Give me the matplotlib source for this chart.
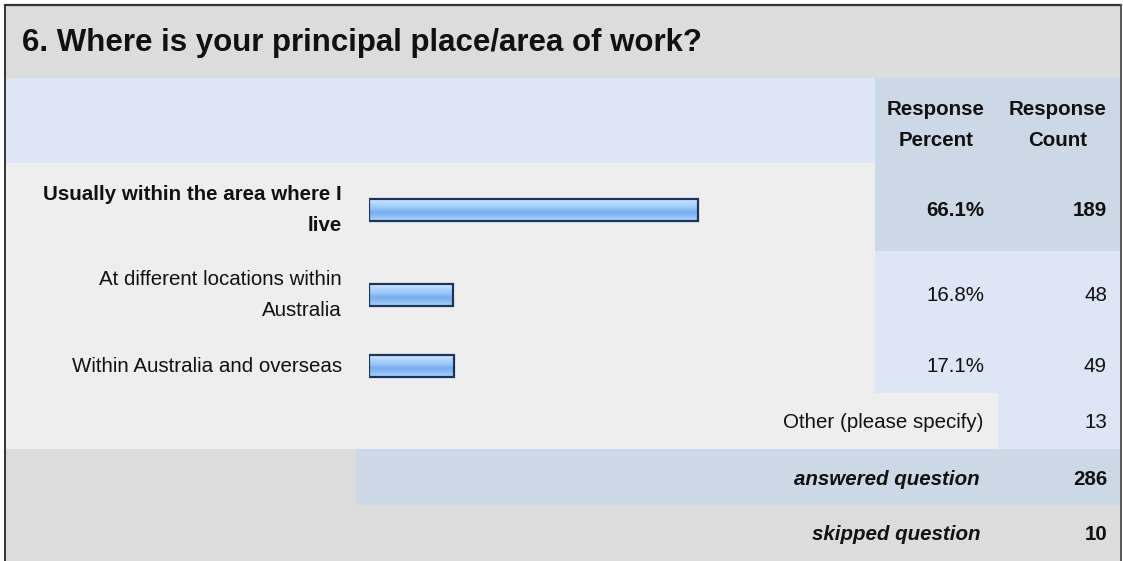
import numpy as np
import matplotlib
matplotlib.use("Agg")
import matplotlib.pyplot as plt
from matplotlib.patches import Rectangle
from matplotlib.colors import LinearSegmentedColormap

plt.rcParams["font.family"] = ["Liberation Sans", "DejaVu Sans"]

title = "6. Where is your principal place/area of work?"
answers = ["Usually within the area where I\nlive",
           "At different locations within\nAustralia",
           "Within Australia and overseas"]
percents = [66.1, 16.8, 17.1]
counts = [189, 48, 49]
other_label = "Other (please specify)"
other_count = 13
answered = 286
skipped = 10

W, H = 1123, 561
GRAY = "#dcdcdc"
ROW = "#eeeeee"
LBLUE = "#dce6f4"
DBLUE = "#ccd8e6"
FS = 14.8
LS = 1.78
INK = "#111111"

fig = plt.figure(figsize=(W / 100, H / 100), dpi=100)
fig.patch.set_facecolor("white")

# background table in pixel coordinates
bg = fig.add_axes([0, 0, 1, 1])
bg.set_xlim(0, W)
bg.set_ylim(H, 0)
bg.axis("off")


def cell(x0, x1, y0, y1, c):
    bg.add_patch(Rectangle((x0, y0), x1 - x0, y1 - y0, facecolor=c,
                           edgecolor="none", zorder=0))


cell(6, 1121, 6, 78, GRAY)
cell(6, 875, 78, 163, LBLUE)
cell(875, 1121, 78, 163, DBLUE)
cell(6, 875, 163, 251, ROW)
cell(875, 1121, 163, 251, DBLUE)
cell(6, 875, 251, 393, ROW)
cell(875, 1121, 251, 393, LBLUE)
cell(6, 998, 393, 449, ROW)
cell(998, 1121, 393, 449, LBLUE)
cell(6, 356, 449, 505, GRAY)
cell(356, 1121, 449, 505, DBLUE)
cell(6, 1121, 505, 561, GRAY)

# borders
bg.plot([5, 1121], [5, 5], color="#333333", lw=1.6, zorder=3)
bg.plot([5, 5], [5, 561], color="#333333", lw=1.4, zorder=3)
bg.plot([1121, 1121], [5, 561], color="#555555", lw=1.4, zorder=3)

bg.text(22, 43, title, fontsize=22.5, fontweight="bold", va="center",
        ha="left", color=INK)

bg.text(936, 125, "Response\nPercent", fontsize=FS, fontweight="bold",
        ha="center", va="center", linespacing=LS, color=INK)
bg.text(1058, 125, "Response\nCount", fontsize=FS, fontweight="bold",
        ha="center", va="center", linespacing=LS, color=INK)

row_y = [210, 295, 366]
for i, (lab, p, c) in enumerate(zip(answers, percents, counts)):
    w = "bold" if i == 0 else "normal"
    bg.text(342, row_y[i], lab, fontsize=FS, fontweight=w, ha="right",
            va="center", linespacing=LS, color=INK)
    bg.text(984, row_y[i], f"{p:.1f}%", fontsize=FS, fontweight=w,
            ha="right", va="center", color=INK)
    bg.text(1107, row_y[i], str(c), fontsize=FS, fontweight=w,
            ha="right", va="center", color=INK)

bg.text(983, 422, other_label, fontsize=FS, ha="right", va="center",
        color=INK)
bg.text(1107, 422, str(other_count), fontsize=FS, ha="right", va="center",
        color=INK)
bg.text(980, 479, "answered question", fontsize=FS, fontweight="bold",
        style="italic", ha="right", va="center", color=INK)
bg.text(1107, 479, str(answered), fontsize=FS, fontweight="bold",
        ha="right", va="center", color=INK)
bg.text(980, 535, "skipped question", fontsize=FS, fontweight="bold",
        style="italic", ha="right", va="center", color=INK)
bg.text(1107, 535, str(skipped), fontsize=FS, fontweight="bold",
        ha="right", va="center", color=INK)

# bars: axes spanning 0..100 % horizontally, pixel rows vertically
x0, x1 = 369, 867
y_top, y_bot = 163, 393
bax = fig.add_axes([x0 / W, 1 - y_bot / H, (x1 - x0) / W, (y_bot - y_top) / H])
bax.axis("off")
bax.patch.set_alpha(0)

grad = LinearSegmentedColormap.from_list(
    "bar", ["#d4eaff", "#b2d7ff", "#9bc7fa", "#79aef0", "#8fbef6", "#acd4ff"])
gimg = np.linspace(0, 1, 64).reshape(-1, 1)
bar_h = 22
for y, p in zip(row_y, percents):
    bax.imshow(gimg, cmap=grad, aspect="auto", interpolation="bilinear",
               extent=(0, p, y + bar_h / 2, y - bar_h / 2), zorder=1)
bax.barh(row_y, percents, height=bar_h, left=0, facecolor="none",
         edgecolor="#1d355c", linewidth=1.6, zorder=2)
bax.set_xlim(0, 100)
bax.set_ylim(y_bot, y_top)

fig.savefig("out.png", dpi=100)
